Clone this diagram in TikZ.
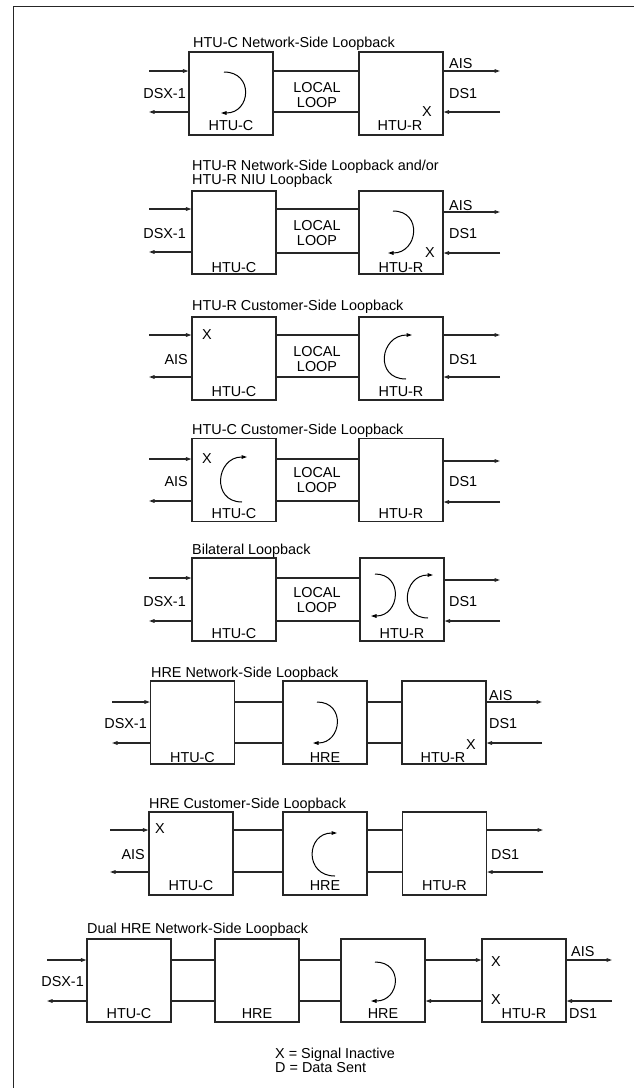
\documentclass[tikz,border=0pt]{standalone}
\usepackage{fontspec}
\setmainfont{Liberation Sans}
\usetikzlibrary{arrows.meta}
\begin{document}
\begin{tikzpicture}[x=1pt,y=-1pt,
  box/.style={draw=black!85, line width=1.1pt, minimum width=84pt, minimum height=83pt, inner sep=0pt},
  txt/.style={inner sep=0pt, text height=10.3pt, text depth=0pt, font=\fontsize{14.4}{17}\selectfont},
  wire/.style={draw=black!85, line width=1.1pt},
  sig/.style={draw=black!85, line width=1.1pt, -{Triangle[length=5.5pt,width=3.6pt]}},
  loopy/.style={draw=black, line width=1pt, -{Triangle[length=5.5pt,width=3.6pt]}},
]
\useasboundingbox (0,0) rectangle (634,1088);
\draw[line width=1.5pt, black!85] (13.5,1088) -- (13.5,6.5) -- (634,6.5);

% ---------- Diagram 1 ----------
\node[box] (c1) at (231,93.5) {};
\node[box] (r1) at (401,93.5) {};
\node[txt,anchor=west] (t1) at (193,42) {HTU-C Network-Side Loopback};
\coordinate (la1) at (149,71); \coordinate (lb1) at (149,112);
\coordinate (ra1) at (500,71); \coordinate (rb1) at (500,112);
\draw[sig] (la1) -- (la1 -| c1.west);
\draw[sig] (lb1 -| c1.west) -- (lb1);
\draw[wire] (la1 -| c1.east) -- (la1 -| r1.west);
\draw[wire] (lb1 -| c1.east) -- (lb1 -| r1.west);
\draw[sig] (ra1 -| r1.east) -- (ra1);
\draw[sig] (rb1) -- (rb1 -| r1.east);
\node[txt,anchor=east] (dsx1) at (186,93) {DSX-1};
\node[txt] (lo1) at (317,87) {LOCAL};
\node[txt] (lp1) at (317,102) {LOOP};
\node[txt,anchor=west] (ais1) at (449,63) {AIS};
\node[txt,anchor=west] (ds1) at (449,93) {DS1};
\node[txt] (x1) at (427,111) {X};
\node[txt] (cl1) at (231,125) {HTU-C};
\node[txt] (rl1) at (400,125) {HTU-R};
\draw[loopy] (224,72) .. controls (254,72) and (251,113) .. (221,113);

% ---------- Diagram 2 ----------
\node[box] (c2) at (234,232.5) {};
\node[box] (r2) at (401,232.5) {};
\node[txt,anchor=west] (t2a) at (192,165) {HTU-R Network-Side Loopback and/or};
\node[txt,anchor=west] (t2b) at (192,179) {HTU-R NIU Loopback};
\coordinate (la2) at (149,209); \coordinate (lb2) at (149,252);
\coordinate (ra2) at (500,212); \coordinate (rb2) at (500,253);
\draw[sig] (la2) -- (la2 -| c2.west);
\draw[sig] (lb2 -| c2.west) -- (lb2);
\draw[wire] (la2 -| c2.east) -- (la2 -| r2.west);
\draw[wire] (rb2 -| c2.east) -- (rb2 -| r2.west);
\draw[sig] (ra2 -| r2.east) -- (ra2);
\draw[sig] (rb2) -- (rb2 -| r2.east);
\node[txt,anchor=east] (dsx2) at (186,233) {DSX-1};
\node[txt] (lo2) at (317,225) {LOCAL};
\node[txt] (lp2) at (317,240) {LOOP};
\node[txt,anchor=west] (ais2) at (449,205) {AIS};
\node[txt,anchor=west] (ds2) at (449,233) {DS1};
\node[txt] (x2) at (430,252) {X};
\node[txt] (cl2) at (234,267) {HTU-C};
\node[txt] (rl2) at (401,267) {HTU-R};
\draw[loopy] (393,211) .. controls (423,211) and (418,253) .. (388,253);

% ---------- Diagram 3 ----------
\node[box] (c3) at (234,358.5) {};
\node[box] (r3) at (401,358.5) {};
\node[txt,anchor=west] (t3) at (192,305) {HTU-R Customer-Side Loopback};
\coordinate (la3) at (149,335); \coordinate (lb3) at (149,377);
\coordinate (ra3) at (500,335); \coordinate (rb3) at (500,377);
\draw[sig] (la3) -- (la3 -| c3.west);
\draw[sig] (lb3 -| c3.west) -- (lb3);
\draw[wire] (la3 -| c3.east) -- (la3 -| r3.west);
\draw[wire] (lb3 -| c3.east) -- (lb3 -| r3.west);
\draw[sig] (ra3 -| r3.east) -- (ra3);
\draw[sig] (rb3) -- (rb3 -| r3.east);
\node[txt,anchor=east] (ais3) at (188,359) {AIS};
\node[txt] (lo3) at (317,351) {LOCAL};
\node[txt] (lp3) at (317,366) {LOOP};
\node[txt,anchor=west] (ds3) at (449,359) {DS1};
\node[txt] (x3) at (207,334) {X};
\node[txt] (cl3) at (234,391) {HTU-C};
\node[txt] (rl3) at (401,391) {HTU-R};
\draw[loopy] (406,379) .. controls (374,379) and (380,335) .. (412,335);

% ---------- Diagram 4 ----------
\node[box] (c4) at (234,480) {};
\node[box] (r4) at (401,480) {};
\node[txt,anchor=west] (t4) at (192,429) {HTU-C Customer-Side Loopback};
\coordinate (la4) at (149,459); \coordinate (lb4) at (149,501);
\coordinate (ra4) at (500,461); \coordinate (rb4) at (500,502);
\draw[sig] (la4) -- (la4 -| c4.west);
\draw[sig] (lb4 -| c4.west) -- (lb4);
\draw[wire] (la4 -| c4.east) -- (la4 -| r4.west);
\draw[wire] (lb4 -| c4.east) -- (lb4 -| r4.west);
\draw[sig] (ra4 -| r4.east) -- (ra4);
\draw[sig] (rb4) -- (rb4 -| r4.east);
\node[txt,anchor=east] (ais4) at (188,481) {AIS};
\node[txt] (lo4) at (317,472) {LOCAL};
\node[txt] (lp4) at (317,487) {LOOP};
\node[txt,anchor=west] (ds4) at (449,481) {DS1};
\node[txt] (x4) at (207,458) {X};
\node[txt] (cl4) at (234,513) {HTU-C};
\node[txt] (rl4) at (401,513) {HTU-R};
\draw[loopy] (242,502) .. controls (211,502) and (216,457) .. (247,457);

% ---------- Diagram 5 ----------
\node[box] (c5) at (234,599.5) {};
\node[box] (r5) at (402,599.5) {};
\node[txt,anchor=west] (t5) at (192,549) {Bilateral Loopback};
\coordinate (la5) at (149,578); \coordinate (lb5) at (149,621);
\coordinate (ra5) at (500,580); \coordinate (rb5) at (500,621);
\draw[sig] (la5) -- (la5 -| c5.west);
\draw[sig] (lb5 -| c5.west) -- (lb5);
\draw[wire] (la5 -| c5.east) -- (la5 -| r5.west);
\draw[wire] (lb5 -| c5.east) -- (lb5 -| r5.west);
\draw[sig] (ra5 -| r5.east) -- (ra5);
\draw[sig] (rb5) -- (rb5 -| r5.east);
\node[txt,anchor=east] (dsx5) at (186,601) {DSX-1};
\node[txt] (lo5) at (317,592) {LOCAL};
\node[txt] (lp5) at (317,607) {LOOP};
\node[txt,anchor=west] (ds5) at (449,601) {DS1};
\node[txt] (cl5) at (234,633) {HTU-C};
\node[txt] (rl5) at (402,633) {HTU-R};
\draw[loopy] (375,574) .. controls (404,574) and (400,616) .. (371,616);
\draw[loopy] (428,618) .. controls (398,618) and (403,575) .. (433,575);

% ---------- Diagram 6 ----------
\node[box] (c6) at (192.5,722.5) {};
\node[box] (h6) at (325,722.5) {};
\node[box] (r6) at (444,722.5) {};
\node[txt,anchor=west] (t6) at (151,672) {HRE Network-Side Loopback};
\coordinate (la6) at (112,702); \coordinate (lb6) at (112,743);
\coordinate (ra6) at (542,702); \coordinate (rb6) at (542,743);
\draw[sig] (la6) -- (la6 -| c6.west);
\draw[sig] (lb6 -| c6.west) -- (lb6);
\draw[wire] (la6 -| c6.east) -- (la6 -| h6.west);
\draw[wire] (lb6 -| c6.east) -- (lb6 -| h6.west);
\draw[wire] (la6 -| h6.east) -- (la6 -| r6.west);
\draw[wire] (lb6 -| h6.east) -- (lb6 -| r6.west);
\draw[sig] (ra6 -| r6.east) -- (ra6);
\draw[sig] (rb6) -- (rb6 -| r6.east);
\node[txt,anchor=east] (dsx6) at (147,723) {DSX-1};
\node[txt,anchor=west] (ais6) at (489,695) {AIS};
\node[txt,anchor=west] (ds6) at (489,723) {DS1};
\node[txt] (x6) at (471,744) {X};
\node[txt] (cl6) at (192.5,757) {HTU-C};
\node[txt] (hl6) at (325,757) {HRE};
\node[txt] (rl6) at (443,757) {HTU-R};
\draw[loopy] (317,702) .. controls (346,702) and (342,743) .. (313,743);

% ---------- Diagram 7 ----------
\node[box] (c7) at (191,853.5) {};
\node[box] (h7) at (325,853.5) {};
\node[box] (r7) at (444.5,853.5) {};
\node[txt,anchor=west] (t7) at (149,803) {HRE Customer-Side Loopback};
\coordinate (la7) at (110,830); \coordinate (lb7) at (110,872);
\coordinate (ra7) at (543,830); \coordinate (rb7) at (543,872);
\draw[sig] (la7) -- (la7 -| c7.west);
\draw[sig] (lb7 -| c7.west) -- (lb7);
\draw[wire] (la7 -| c7.east) -- (la7 -| h7.west);
\draw[wire] (lb7 -| c7.east) -- (lb7 -| h7.west);
\draw[wire] (la7 -| h7.east) -- (la7 -| r7.west);
\draw[wire] (lb7 -| h7.east) -- (lb7 -| r7.west);
\draw[sig] (ra7 -| r7.east) -- (ra7);
\draw[sig] (rb7) -- (rb7 -| r7.east);
\node[txt,anchor=east] (ais7) at (145,854) {AIS};
\node[txt,anchor=west] (ds7) at (491,854) {DS1};
\node[txt] (x7) at (160,828) {X};
\node[txt] (cl7) at (191,885) {HTU-C};
\node[txt] (hl7) at (325,885) {HRE};
\node[txt] (rl7) at (444.5,885) {HTU-R};
\draw[loopy] (335,876) .. controls (304,876) and (306,833) .. (337,833);

% ---------- Diagram 8 ----------
\node[box] (c8) at (129,980.5) {};
\node[box] (ha8) at (257,980.5) {};
\node[box] (hb8) at (383,980.5) {};
\node[box] (r8) at (524,980.5) {};
\node[txt,anchor=west] (t8) at (87,928) {Dual HRE Network-Side Loopback};
\coordinate (la8) at (47,960); \coordinate (lb8) at (47,1001);
\coordinate (ra8) at (612,960); \coordinate (rb8) at (612,1001);
\draw[sig] (la8) -- (la8 -| c8.west);
\draw[sig] (lb8 -| c8.west) -- (lb8);
\draw[wire] (la8 -| c8.east) -- (la8 -| ha8.west);
\draw[wire] (lb8 -| c8.east) -- (lb8 -| ha8.west);
\draw[wire] (la8 -| ha8.east) -- (la8 -| hb8.west);
\draw[wire] (lb8 -| ha8.east) -- (lb8 -| hb8.west);
\draw[sig] (la8 -| hb8.east) -- (la8 -| r8.west);
\draw[sig] (lb8 -| r8.west) -- (lb8 -| hb8.east);
\draw[sig] (ra8 -| r8.east) -- (ra8);
\draw[sig] (rb8) -- (rb8 -| r8.east);
\node[txt,anchor=east] (dsx8) at (84,981) {DSX-1};
\node[txt,anchor=west] (ais8) at (571,951) {AIS};
\node[txt,anchor=west] (ds8) at (569,1013) {DS1};
\node[txt] (xa8) at (496,961) {X};
\node[txt] (xb8) at (496,999) {X};
\node[txt] (cl8) at (129,1013) {HTU-C};
\node[txt] (hla8) at (257,1013) {HRE};
\node[txt] (hlb8) at (383,1013) {HRE};
\node[txt] (rl8) at (524,1013) {HTU-R};
\draw[loopy] (375,962) .. controls (404,962) and (400,1001) .. (371,1001);

% ---------- Legend ----------
\node[txt,anchor=west] (leg1) at (275,1053) {X = Signal Inactive};
\node[txt,anchor=west] (leg2) at (275,1067) {D = Data Sent};
\end{tikzpicture}
\end{document}
